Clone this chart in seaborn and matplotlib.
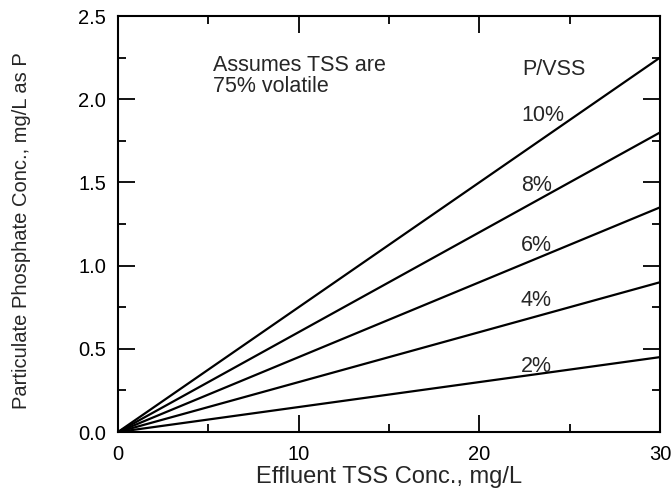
import matplotlib
matplotlib.use("Agg")
import matplotlib.pyplot as plt
import seaborn as sns
import pandas as pd
from matplotlib.ticker import MultipleLocator

sns.set_theme(style="ticks")
plt.rcParams['font.family'] = ['Liberation Sans', 'DejaVu Sans']

tss = [0, 30]
p_2 = [0, 0.45]
p_4 = [0, 0.90]
p_6 = [0, 1.35]
p_8 = [0, 1.80]
p_10 = [0, 2.25]
labels = ["2%", "4%", "6%", "8%", "10%"]
series = [p_2, p_4, p_6, p_8, p_10]
label_y = [0.395, 0.79, 1.12, 1.48, 1.90]

rows = []
for lab, vals in zip(labels, series):
    for x, y in zip(tss, vals):
        rows.append({"TSS": x, "P": y, "ratio": lab})
df = pd.DataFrame(rows)

fig = plt.figure(figsize=(6.71, 4.98), dpi=100)
ax = fig.add_axes([118/671, 1-432/498, (660-118)/671, (432-16)/498])

sns.lineplot(data=df, x="TSS", y="P", units="ratio", estimator=None,
             color="black", linewidth=1.6, ax=ax, legend=False)

ax.set_xlim(0, 30)
ax.set_ylim(0, 2.5)
ax.xaxis.set_major_locator(MultipleLocator(10))
ax.xaxis.set_minor_locator(MultipleLocator(5))
ax.yaxis.set_major_locator(MultipleLocator(0.5))
ax.yaxis.set_minor_locator(MultipleLocator(0.25))
ax.yaxis.set_major_formatter(plt.FormatStrFormatter('%.1f'))
ax.tick_params(which='both', direction='in', top=True, right=True,
               labelsize=14.5, colors='black')
ax.tick_params(which='major', length=12, width=1.3)
ax.tick_params(axis='y', which='major', pad=8.5)
ax.tick_params(axis='x', which='major', pad=9)
ax.tick_params(which='minor', length=6, width=1.3)
for s in ax.spines.values():
    s.set_linewidth(1.5)
    s.set_color('black')

ax.set_xlabel("Effluent TSS Conc., mg/L", fontsize=17, va='center')
ax.set_ylabel("Particulate Phosphate Conc., mg/L as P", fontsize=14.5, va='center')
ax.xaxis.set_label_coords(0.5, (432-477)/416)
ax.yaxis.set_label_coords((22-118)/542, 0.485)

ax.text(5.25, 2.142, "Assumes TSS are\n75% volatile", fontsize=15.5,
        va='center', ha='left', linespacing=1.0)
ax.text(22.35, 2.178, "P/VSS", fontsize=15.5, va='center', ha='left')
for lab, ly in zip(labels, label_y):
    ax.text(22.3, ly, lab, fontsize=15.5, va='center', ha='left')

fig.savefig("out.png", dpi=100)
